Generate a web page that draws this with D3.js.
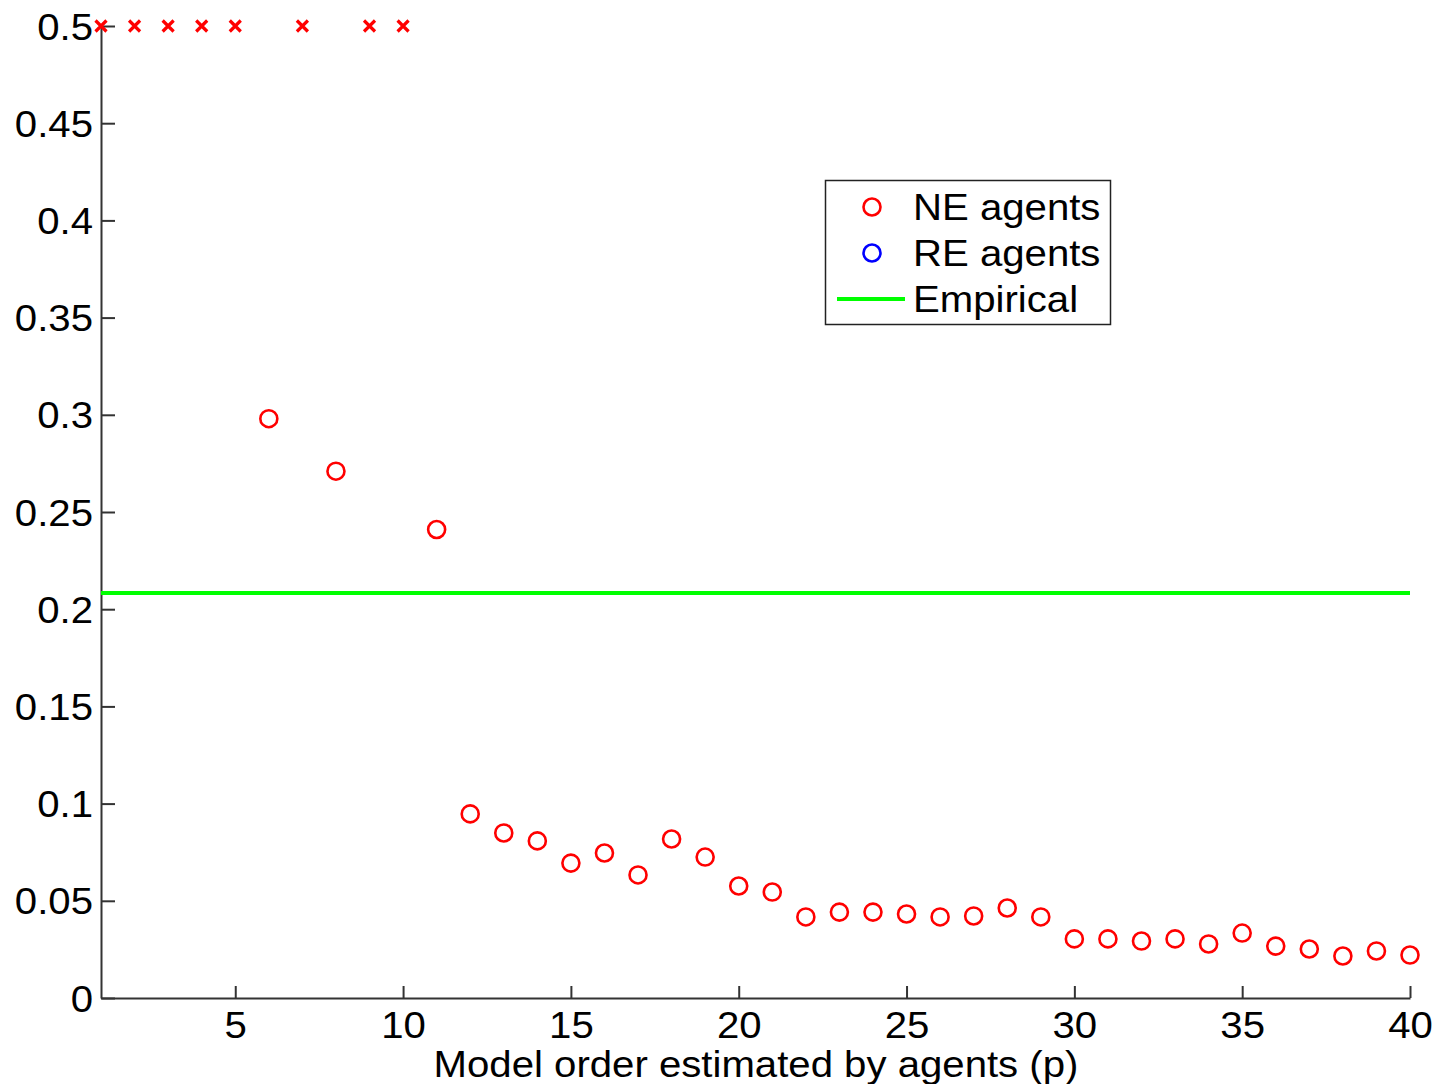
<!DOCTYPE html>
<html>
<head>
<meta charset="utf-8">
<script src="https://cdn.jsdelivr.net/npm/d3@7"></script>
<style>
  body { margin:0; background:#fff; }
  text { font-family: "Liberation Sans", Arial, sans-serif; }
</style>
</head>
<body>
<div id="chart"></div>
<script>
// model order p vs. value; points above the y range are drawn as x at the top
const orders = [1,2,3,4,5,6,7,8,9,10,11,12,13,14,15,16,17,18,19,20,21,22,23,24,25,26,27,28,29,30,31,32,33,34,35,36,37,38,39,40];
const neValues = [null,null,null,null,null,0.298,null,0.271,null,null,0.241,0.0947,0.0849,0.0808,0.0694,0.0746,0.0633,0.0818,0.0725,0.0576,0.0545,0.0417,0.0442,0.0442,0.0432,0.0417,0.0422,0.0463,0.0417,0.0304,0.0304,0.0293,0.0304,0.0278,0.0334,0.0267,0.0252,0.0216,0.0242,0.0221];
const clippedOrders = [1,2,3,4,5,7,9,10];
const empirical = 0.2083;
const xTicks = [5,10,15,20,25,30,35,40];
const yTicks = [0,0.05,0.1,0.15,0.2,0.25,0.3,0.35,0.4,0.45,0.5];
const legendItems = [
  {label:'NE agents', type:'circle', color:'#ff0000'},
  {label:'RE agents', type:'circle', color:'#0000ff'},
  {label:'Empirical', type:'line', color:'#00ff00'}
];

const W = 1437, H = 1084;
const svg = d3.select('#chart').append('svg').attr('width', W).attr('height', H);

const x = d3.scaleLinear().domain([1, 40]).range([101, 1410]);
const y = d3.scaleLinear().domain([0, 0.5]).range([998, 26]);
const fs = 36.5;
const sx = 1.1; // the original text is a bit wider than Liberation Sans

// stretch a text horizontally around its own x position
function stretch(sel){
  sel.each(function(){
    const t = d3.select(this);
    const tx = +t.attr('x') || 0;
    t.attr('x', tx / sx).attr('transform', `scale(${sx},1)`);
  });
}

// axes with inward ticks
const xAxis = svg.append('g').attr('transform', `translate(0,${y(0)})`)
  .call(d3.axisBottom(x).tickValues(xTicks).tickSizeInner(-12).tickSizeOuter(0).tickPadding(14).tickFormat(d3.format('d')));
const yAxis = svg.append('g').attr('transform', `translate(${x(1)},0)`)
  .call(d3.axisLeft(y).tickValues(yTicks).tickSizeInner(-14).tickSizeOuter(0).tickPadding(8).tickFormat(d => d === 0 ? '0' : String(+d.toFixed(2))));
[xAxis, yAxis].forEach(g => {
  g.select('.domain').attr('stroke', '#333').attr('stroke-width', 2);
  g.selectAll('.tick line').attr('stroke', '#333').attr('stroke-width', 2);
  g.selectAll('.tick text').attr('font-size', fs).attr('fill', '#000')
    .attr('font-family', '"Liberation Sans", Arial, sans-serif').call(stretch);
});
xAxis.selectAll('.tick text').attr('dy', '0.71em');
yAxis.selectAll('.tick text').attr('dy', '0.36em');

// empirical line
svg.append('line')
  .attr('x1', x(1)).attr('x2', x(40))
  .attr('y1', y(empirical)).attr('y2', y(empirical))
  .attr('stroke', '#00ff00').attr('stroke-width', 4);

// NE circles
const pts = orders.map((p, i) => ({p, v: neValues[i]})).filter(d => d.v !== null);
svg.append('g').selectAll('circle').data(pts).enter().append('circle')
  .attr('cx', d => x(d.p)).attr('cy', d => y(d.v)).attr('r', 8.5)
  .attr('fill', 'none').attr('stroke', '#ff0000').attr('stroke-width', 2.6);

// clipped points drawn as crosses at the top
const cs = 5.5;
svg.append('g').selectAll('path').data(clippedOrders).enter().append('path')
  .attr('d', d => `M${x(d)-cs},${y(0.5)-cs}L${x(d)+cs},${y(0.5)+cs}M${x(d)-cs},${y(0.5)+cs}L${x(d)+cs},${y(0.5)-cs}`)
  .attr('stroke', '#ff0000').attr('stroke-width', 3.2).attr('fill', 'none');

// x label
svg.append('text').attr('x', 756).attr('y', 1077).attr('text-anchor', 'middle')
  .attr('font-size', fs).text('Model order estimated by agents (p)').call(stretch);

// legend
const lg = svg.append('g');
lg.append('rect').attr('x', 825.5).attr('y', 180.5).attr('width', 285).attr('height', 144)
  .attr('fill', '#fff').attr('stroke', '#222').attr('stroke-width', 1.5);
legendItems.forEach((it, i) => {
  const cy = 207 + i * 46;
  if (it.type === 'circle') {
    lg.append('circle').attr('cx', 872).attr('cy', cy).attr('r', 8.5)
      .attr('fill', 'none').attr('stroke', it.color).attr('stroke-width', 2.6);
  } else {
    lg.append('line').attr('x1', 837).attr('x2', 905).attr('y1', cy).attr('y2', cy)
      .attr('stroke', it.color).attr('stroke-width', 4);
  }
  lg.append('text').attr('x', 913).attr('y', cy).attr('dy', '0.36em')
    .attr('font-size', fs).text(it.label).call(stretch);
});
</script>
</body>
</html>
